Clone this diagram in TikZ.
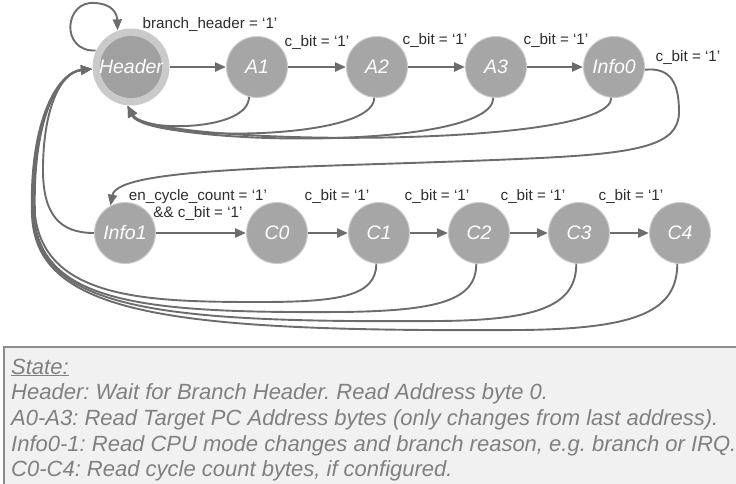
\documentclass[tikz,border=0pt]{standalone}
\usepackage{fontspec}
\setmainfont{Liberation Sans}
\frenchspacing
\usetikzlibrary{arrows.meta}
\definecolor{edgegry}{RGB}{108,108,108}
\definecolor{stategry}{RGB}{166,166,166}
\definecolor{rimgry}{RGB}{204,204,204}
\definecolor{ringgry}{RGB}{202,202,202}
\definecolor{hdrgry}{RGB}{160,160,160}
\definecolor{lblgry}{RGB}{45,45,45}
\definecolor{leggry}{RGB}{128,128,128}
\definecolor{legfill}{RGB}{241,241,241}
\definecolor{legline}{RGB}{140,140,140}

\begin{document}
\begin{tikzpicture}[x=1pt,y=-1pt,
  state/.style={circle,fill=stategry,draw=rimgry,line width=1pt,minimum size=61pt,inner sep=0pt,
    text=white,font=\fontsize{19.5}{19.5}\selectfont\itshape},
  edge/.style={->,edgegry,line width=2.3pt},
  back/.style={->,edgegry,line width=1.9pt},
  lbl/.style={text=lblgry,font=\fontsize{15.2}{17}\selectfont,inner sep=0pt},
  legtxt/.style={text=leggry,font=\fontsize{22}{25.7}\selectfont\itshape,align=left,inner sep=0pt},
  >={Triangle[length=11pt,width=9pt]}]
  \useasboundingbox (0,0) rectangle (736,483);
  \clip (0,0) rectangle (736,483);

  % states
  \node[state,minimum size=77pt,fill=ringgry,draw=none,
    path picture={\fill[hdrgry] (path picture bounding box.center) circle (31pt);}] (hdr) at (131,67) {Header};
  \node[state] (a1) at (257,67) {A1};
  \node[state] (a2) at (377,67) {A2};
  \node[state] (a3) at (496,67) {A3};
  \node[state] (info0) at (614,67) {Info0};
  \node[state] (info1) at (125,233) {Info1};
  \node[state] (c0) at (277,233) {C0};
  \node[state] (c1) at (379,233) {C1};
  \node[state] (c2) at (479,233) {C2};
  \node[state] (c3) at (579,233) {C3};
  \node[state] (c4) at (680,233) {C4};

  % forward transitions
  \draw[edge] (hdr) -- (a1);
  \draw[edge] (a1) -- (a2);
  \draw[edge] (a2) -- (a3);
  \draw[edge] (a3) -- (info0);
  \draw[edge] (info1) -- (c0);
  \draw[edge] (c0) -- (c1);
  \draw[edge] (c1) -- (c2);
  \draw[edge] (c2) -- (c3);
  \draw[edge] (c3) -- (c4);

  \node[lbl] (lhdr) at (210,24) {branch\_header = `1'};
  \node[lbl] (la1) at (317,42) {c\_bit = `1'};
  \node[lbl] (la2) at (435,40) {c\_bit = `1'};
  \node[lbl] (la3) at (556,40) {c\_bit = `1'};
  \node[lbl] (linfo0) at (688,57) {c\_bit = `1'};
  \node[lbl,align=center] (linfo1) at (198,204.5) {en\_cycle\_count = `1'\\\&\& c\_bit = `1'};
  \node[lbl] (lc0) at (337,196) {c\_bit = `1'};
  \node[lbl] (lc1) at (437,196) {c\_bit = `1'};
  \node[lbl] (lc2) at (533,196) {c\_bit = `1'};
  \node[lbl] (lc3) at (631,196) {c\_bit = `1'};

  % self loop
  \draw[back] (hdr.155) .. controls (60,52) and (64,0) .. (95,3) .. controls (113,4) and (117,14) .. (hdr.110);

  % back to header, first row
  \draw[back] (a1.255) .. controls (249,132) and (140,132) .. (hdr.265);
  \draw[back] (a2.265) .. controls (374,142) and (145,142) .. (hdr.265);
  \draw[back] (a3.265) .. controls (493,152) and (150,146) .. (hdr.265);
  \draw[back] (info0.265) .. controls (611,150) and (150,146) .. (hdr.265);

  % down to second row
  \draw[back] (info0.-5) .. controls (672,67) and (679,85) .. (679,112)
    .. controls (679,145) and (640,153) .. (540,158)
    .. controls (330,168) and (118,165) .. (info1.118);
  \draw[back] (info1.west) .. controls (60,233) and (43,215) .. (43,170)
    .. controls (43,110) and (60,72) .. (hdr.183);

  % back to header, second row
  \draw[back] (c1.265) .. controls (376,296) and (340,302) .. (260,302)
    .. controls (150,302) and (45,300) .. (35,215) .. controls (32,120) and (58,72) .. (hdr.183);
  \draw[back] (c2.265) .. controls (476,300) and (440,311) .. (340,312)
    .. controls (150,313) and (40,305) .. (34,215) .. controls (31,120) and (58,72) .. (hdr.183);
  \draw[back] (c3.265) .. controls (576,305) and (540,320) .. (440,321)
    .. controls (160,323) and (38,310) .. (33,215) .. controls (30,120) and (58,72) .. (hdr.183);
  \draw[back] (c4.265) .. controls (677,310) and (640,329) .. (520,330)
    .. controls (170,332) and (36,315) .. (32,215) .. controls (29,120) and (58,72) .. (hdr.183);

  % legend
  \draw[legline,fill=legfill,line width=1.2pt] (4,347) rectangle (760,500);
  \node[legtxt,anchor=north west] (legend) at (11,358.5) {\underline{State:}\\
    Header: Wait for Branch Header. Read Address byte 0.\\
    A0-A3: Read Target PC Address bytes (only changes from last address).\\
    Info0-1: Read CPU mode changes and branch reason, e.g. branch or IRQ.\\
    C0-C4: Read cycle count bytes, if configured.};
\end{tikzpicture}
\end{document}
